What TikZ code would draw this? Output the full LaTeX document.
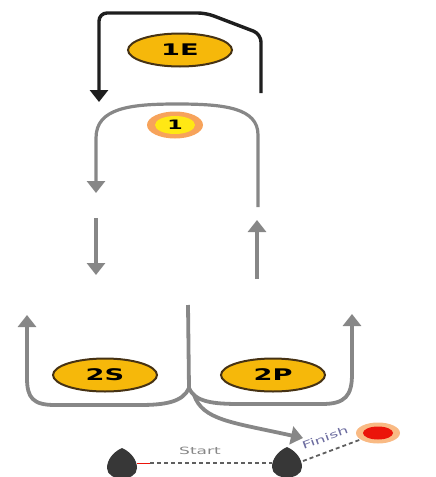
\documentclass[tikz,border=0pt]{standalone}
\usepackage{fontspec}
\setmainfont{DejaVu Sans}
\newfontfamily\weit[FakeStretch=1.7]{DejaVu Sans}
\usetikzlibrary{arrows,arrows.meta}
\usetikzlibrary{calc, shapes.geometric}
\definecolor{spur}{RGB}{30,30,30}
\definecolor{bahn}{RGB}{135,135,135}
\definecolor{gold}{RGB}{246,184,10}
\definecolor{rand}{RGB}{70,50,20}
\definecolor{kern}{RGB}{255,232,20}
\definecolor{glut}{RGB}{245,140,50}
\definecolor{ziel}{RGB}{235,20,10}
\definecolor{kegel}{RGB}{55,55,55}

\begin{document}
\begin{tikzpicture}[x=1pt, y=-1pt, >={Triangle[width=18pt,length=12pt]},
	feld/.style={ellipse, fill=gold, draw=rand, line width=2pt, minimum width=104pt, minimum height=33pt, inner sep=0pt, font=\weit\bfseries\fontsize{16}{16}\selectfont},
	weg/.style={bahn, line width=3.8pt},
	strich/.style={kegel!80, line width=1.8pt, dash pattern=on 4pt off 3pt}]

	\useasboundingbox (0,0) rectangle (436,477);

	% Felder
	\node[feld] (e1) at (180,50) {1E};
	\node[feld] (s2) at (105,375) {2S};
	\node[feld] (p2) at (273,375) {2P};

	\node[ellipse, fill=glut!80, minimum width=56pt, minimum height=27pt] (h1) at (175,125) {};
	\node[ellipse, fill=kern, minimum width=40pt, minimum height=18pt, inner sep=0pt, font=\weit\bfseries\fontsize{13}{13}\selectfont] (k1) at (h1) {1};

	% Anlauf oben
	\draw[spur, line width=3.4pt, ->, rounded corners=8pt] (261,93) -- (261,34) -- (206,13) -- (99,13) -- (99,102);

	\draw[weg, line width=3.2pt, ->] (258,207) -- (258,135) .. controls (258,108) and (225,104) .. (177,104) .. controls (130,104) and (96,108) .. (96,138) -- (96,193);
	\draw[weg, ->] (96,218) -- (96,275);
	\draw[weg, ->] (257,279) -- (257,220);

	% Gabel unten
	\coordinate (j) at (189,388);
	\draw[weg] (188,305) -- (j);
	\draw[weg, ->] (j) .. controls (183,402) and (165,405) .. (140,405) -- (55,405) .. controls (33,405) and (27,398) .. (27,378) -- (27,315);
	\draw[weg, ->] (j) .. controls (195,402) and (213,404) .. (240,404) -- (322,404) .. controls (345,404) and (352,396) .. (352,374) -- (352,314);
	\draw[weg, ->] (194,395) .. controls (203,420) and (230,422) .. (303,438);

	% Start und Ziel
	\fill[kegel] (122,448) .. controls (131,452) and (137,460) .. (137,468) .. controls (137,482) and (107,482) .. (107,468) .. controls (107,460) and (113,452) .. (122,448);
	\fill[kegel] (287,447) .. controls (296,451) and (302,459) .. (302,467) .. controls (302,481) and (272,481) .. (272,467) .. controls (272,459) and (278,451) .. (287,447);
	\coordinate (links) at (137,463);
	\coordinate (rechts) at (272,463);
	\draw[ziel, line width=1pt] (links) -- ++(13,0);
	\draw[strich] ($(links)+(13,0)$) -- (rechts);
	\node[text=bahn, font=\weit\fontsize{10}{10}\selectfont] (st) at (200,451) {Start};

	\node[ellipse, fill=glut!60, minimum width=44pt, minimum height=21pt] (zh) at (378,433) {};
	\node[ellipse, fill=ziel, minimum width=30pt, minimum height=13pt, inner sep=0pt] (zk) at (zh) {};
	\draw[strich] (303,461) -- (zh);
	\node[text=bahn!80!blue, font=\weit\fontsize{10}{10}\selectfont, rotate=20, inner sep=0pt] (fi) at (325,438) {Finish};

\end{tikzpicture}
\end{document}
